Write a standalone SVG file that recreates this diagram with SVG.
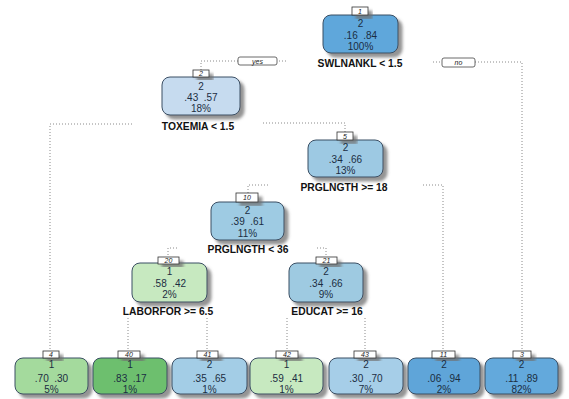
<svg xmlns="http://www.w3.org/2000/svg" width="569" height="399" viewBox="0 0 569 399">
<defs>
<filter id="sh" x="-20%" y="-20%" width="150%" height="160%">
<feDropShadow dx="4" dy="4" stdDeviation="1.6" flood-color="#6f6f6f" flood-opacity="0.75"/>
</filter>
</defs>
<style>
.box{stroke:#3b4e63;stroke-width:1;filter:url(#sh)}
.nt{font-family:"Liberation Sans",Arial,sans-serif;font-size:10px;fill:#1b2d42;text-anchor:middle;white-space:pre}
.sp{font-family:"Liberation Sans",Arial,sans-serif;font-size:10.3px;font-weight:bold;fill:#111;text-anchor:middle}
.lb{fill:#fff;stroke:#333;stroke-width:0.8;filter:url(#sh)}
.lt{font-family:"Liberation Sans",Arial,sans-serif;font-size:7px;font-style:italic;fill:#222;text-anchor:middle}
.con{fill:none;stroke:#8a8a8a;stroke-width:1;stroke-dasharray:1 2}
.yn{fill:#fff;stroke:#444;stroke-width:0.8}
</style>
<rect width="569" height="399" fill="#fff"/>
<g id="connectors">
<path class="con" d="M286,61 H201 V70"/>
<path class="con" d="M433,62 H522 V351"/>
<path class="con" d="M132,124 H50 V351"/>
<path class="con" d="M263,123 H345 V132"/>
<path class="con" d="M268,185 H248 V193"/>
<path class="con" d="M423,185 H443 V351"/>
<path class="con" d="M177,248 H168 V257"/>
<path class="con" d="M317,248 H326 V257"/>
<path class="con" d="M128,318 V351"/>
<path class="con" d="M207,318 V351"/>
<path class="con" d="M287,318 V351"/>
<path class="con" d="M365,318 V351"/>
<rect class="yn" x="238" y="57" width="39" height="8" rx="2"/>
<text class="lt" x="257.5" y="63.5">yes</text>
<rect class="yn" x="442" y="58" width="33" height="9" rx="2"/>
<text class="lt" x="458.5" y="65">no</text>
</g>
<g id="node1">
<rect class="box" x="323" y="15" width="75" height="38" rx="8" fill="#5FA7DB"/>
<rect class="lb" x="352" y="7" width="16" height="8"/>
<text class="lt" x="360" y="13.5">1</text>
<text class="nt" x="360.5" y="26.5">2</text>
<text class="nt" x="360.5" y="38.5">.16  .84</text>
<text class="nt" x="360.5" y="50">100%</text>
<text class="sp" x="360" y="67">SWLNANKL &lt; 1.5</text>
</g>
<g id="node2">
<rect class="box" x="162" y="77" width="78" height="38" rx="8" fill="#C6DBEF"/>
<rect class="lb" x="193" y="70" width="16" height="7"/>
<text class="lt" x="201" y="76">2</text>
<text class="nt" x="201" y="89.5">2</text>
<text class="nt" x="201" y="100.5">.43  .57</text>
<text class="nt" x="201" y="111.5">18%</text>
<text class="sp" x="198" y="130">TOXEMIA &lt; 1.5</text>
</g>
<g id="node5">
<rect class="box" x="308" y="140" width="75" height="37" rx="8" fill="#9DC9E3"/>
<rect class="lb" x="337" y="132" width="16" height="8"/>
<text class="lt" x="345" y="138.5">5</text>
<text class="nt" x="345.5" y="151">2</text>
<text class="nt" x="345.5" y="162.5">.34  .66</text>
<text class="nt" x="345.5" y="173.5">13%</text>
<text class="sp" x="344" y="191">PRGLNGTH &gt;= 18</text>
</g>
<g id="node10">
<rect class="box" x="211" y="202" width="73" height="38" rx="8" fill="#9ECBE3"/>
<rect class="lb" x="236" y="193" width="22" height="9"/>
<text class="lt" x="247" y="200">10</text>
<text class="nt" x="247.5" y="213.5">2</text>
<text class="nt" x="247.5" y="225">.39  .61</text>
<text class="nt" x="247.5" y="236.5">11%</text>
<text class="sp" x="248" y="253">PRGLNGTH &lt; 36</text>
</g>
<g id="node20">
<rect class="box" x="132" y="263" width="75" height="39" rx="8" fill="#C7E9C0"/>
<rect class="lb" x="158" y="257" width="21" height="7"/>
<text class="lt" x="168.5" y="263">20</text>
<text class="nt" x="169.5" y="275">1</text>
<text class="nt" x="169.5" y="286.5">.58  .42</text>
<text class="nt" x="169.5" y="298">2%</text>
<text class="sp" x="168" y="315">LABORFOR &gt;= 6.5</text>
</g>
<g id="node21">
<rect class="box" x="289" y="263" width="74" height="39" rx="8" fill="#9ECAE1"/>
<rect class="lb" x="316" y="257" width="21" height="7"/>
<text class="lt" x="326.5" y="263">21</text>
<text class="nt" x="326" y="275">2</text>
<text class="nt" x="326" y="286.5">.34  .66</text>
<text class="nt" x="326" y="298">9%</text>
<text class="sp" x="327" y="315">EDUCAT &gt;= 16</text>
</g>
<g id="node4">
<rect class="box" x="15" y="358" width="73" height="36" rx="8" fill="#A4DA9D"/>
<rect class="lb" x="43" y="351" width="16" height="7"/>
<text class="lt" x="51" y="357">4</text>
<text class="nt" x="51.5" y="368">1</text>
<text class="nt" x="51.5" y="381.5">.70  .30</text>
<text class="nt" x="51.5" y="393">5%</text>
</g>
<g id="node40">
<rect class="box" x="93" y="358" width="74" height="36" rx="8" fill="#6DBF6E"/>
<rect class="lb" x="118" y="351" width="22" height="7"/>
<text class="lt" x="129" y="357">40</text>
<text class="nt" x="130" y="368">1</text>
<text class="nt" x="130" y="381.5">.83  .17</text>
<text class="nt" x="130" y="393">1%</text>
</g>
<g id="node41">
<rect class="box" x="172" y="358" width="75" height="36" rx="8" fill="#A3CDE6"/>
<rect class="lb" x="197" y="351" width="21" height="7"/>
<text class="lt" x="207.5" y="357">41</text>
<text class="nt" x="209.5" y="368">2</text>
<text class="nt" x="209.5" y="381.5">.35  .65</text>
<text class="nt" x="209.5" y="393">1%</text>
</g>
<g id="node42">
<rect class="box" x="250" y="358" width="73" height="36" rx="8" fill="#C7E9C0"/>
<rect class="lb" x="276" y="351" width="22" height="7"/>
<text class="lt" x="287" y="357">42</text>
<text class="nt" x="286.5" y="368">1</text>
<text class="nt" x="286.5" y="381.5">.59  .41</text>
<text class="nt" x="286.5" y="393">1%</text>
</g>
<g id="node43">
<rect class="box" x="329" y="358" width="74" height="36" rx="8" fill="#A6CEE8"/>
<rect class="lb" x="354" y="351" width="22" height="7"/>
<text class="lt" x="365" y="357">43</text>
<text class="nt" x="366" y="368">2</text>
<text class="nt" x="366" y="381.5">.30  .70</text>
<text class="nt" x="366" y="393">7%</text>
</g>
<g id="node11">
<rect class="box" x="408" y="358" width="72" height="36" rx="8" fill="#5EA5D9"/>
<rect class="lb" x="432" y="351" width="23" height="7"/>
<text class="lt" x="443.5" y="357">11</text>
<text class="nt" x="444" y="368">2</text>
<text class="nt" x="444" y="381.5">.06  .94</text>
<text class="nt" x="444" y="393">2%</text>
</g>
<g id="node3">
<rect class="box" x="485" y="358" width="73" height="36" rx="8" fill="#63A9DC"/>
<rect class="lb" x="513" y="351" width="18" height="7"/>
<text class="lt" x="522" y="357">3</text>
<text class="nt" x="521.5" y="368">2</text>
<text class="nt" x="521.5" y="381.5">.11  .89</text>
<text class="nt" x="521.5" y="393">82%</text>
</g>
</svg>
